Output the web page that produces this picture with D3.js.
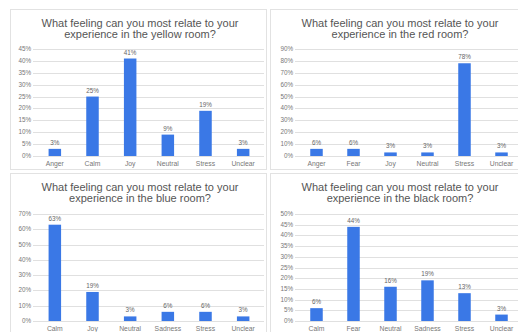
<!DOCTYPE html>
<meta charset="utf-8">
<style>
body { margin: 0; background: #fff; }
svg { display: block; font-family: "Liberation Sans", Arial, sans-serif; }
.grid line { stroke: #e0e0e0; }
.tick-label { fill: #777; font-size: 6.3px; }
.value-label { fill: #666; font-size: 6.3px; }
.cat-label { fill: #777; font-size: 6.8px; }
.title { fill: #555; font-size: 11px; }
</style>
<svg width="518" height="332"></svg>
<script src="https://d3js.org/d3.v7.min.js"></script>
<script>
// data
var yellowCats = ["Anger", "Calm", "Joy", "Neutral", "Stress", "Unclear"]
var yellowVals = [3, 25, 41, 9, 19, 3]
var yellowTicks = [0, 5, 10, 15, 20, 25, 30, 35, 40, 45]

var redCats = ["Anger", "Fear", "Joy", "Neutral", "Stress", "Unclear"]
var redVals = [6, 6, 3, 3, 78, 3]
var redTicks = [0, 10, 20, 30, 40, 50, 60, 70, 80, 90]

var blueCats = ["Calm", "Joy", "Neutral", "Sadness", "Stress", "Unclear"]
var blueVals = [63, 19, 3, 6, 6, 3]
var blueTicks = [0, 10, 20, 30, 40, 50, 60, 70]

var blackCats = ["Calm", "Fear", "Neutral", "Sadness", "Stress", "Unclear"]
var blackVals = [6, 44, 16, 19, 13, 3]
var blackTicks = [0, 5, 10, 15, 20, 25, 30, 35, 40, 45, 50]

var svg = d3.select("svg")
var barColor = "#3a78e6"

function drawPanel(p) {
  var g = svg.append("g")
  // panel frame
  g.append("rect")
    .attr("x", p.box[0] + 0.5).attr("y", p.box[1] + 0.5)
    .attr("width", p.box[2]).attr("height", p.box[3])
    .attr("fill", "#fff").attr("stroke", "#e2e2e2")

  g.append("text").attr("class", "title")
    .attr("x", p.cx).attr("y", p.titleY)
    .attr("text-anchor", "middle").text("What feeling can you most relate to your")
  g.append("text").attr("class", "title")
    .attr("x", p.cx).attr("y", p.titleY + 11)
    .attr("text-anchor", "middle").text("experience in the " + p.room + " room?")

  var y = d3.scaleLinear().domain([0, d3.max(p.ticks)]).range([p.y0, p.y1])
  var x = d3.scaleBand().domain(p.cats).range([p.x0, p.x1])

  //gridlines
  g.append("g").attr("class", "grid").selectAll("line").data(p.ticks)
    .enter().append("line")
    .attr("x1", p.gx).attr("x2", p.gx2)
    .attr("y1", function(d) { return Math.round(y(d)) + 0.5 })
    .attr("y2", function(d) { return Math.round(y(d)) + 0.5 })

  g.selectAll(".tick-label").data(p.ticks).enter().append("text")
    .attr("class", "tick-label")
    .attr("x", p.gx - 2).attr("y", function(d) { return y(d) + 2 })
    .attr("text-anchor", "end")
    .text(function(d) { return d + "%" })

  var bw = 12.5
  var data = p.cats.map(function(c, i) { return {cat: c, v: p.vals[i]} })
  g.selectAll(".bar").data(data).enter().append("rect")
    .attr("class", "bar")
    .attr("x", function(d) { return x(d.cat) + x.bandwidth() / 2 - bw / 2 })
    .attr("width", bw)
    .attr("y", function(d) { return y(d.v) })
    .attr("height", function(d) { return y(0) - y(d.v) })
    .attr("fill", barColor)

  g.selectAll(".value-label").data(data).enter().append("text")
    .attr("class", "value-label")
    .attr("x", function(d) { return x(d.cat) + x.bandwidth() / 2 })
    .attr("y", function(d) { return y(d.v) - 4 })
    .attr("text-anchor", "middle")
    .text(function(d) { return d.v + "%" })

  g.selectAll(".cat-label").data(data).enter().append("text")
    .attr("class", "cat-label")
    .attr("x", function(d) { return x(d.cat) + x.bandwidth() / 2 })
    .attr("y", p.y0 + 10)
    .attr("text-anchor", "middle")
    .text(function(d) { return d.cat })
}

drawPanel({room: "yellow", cats: yellowCats, vals: yellowVals, ticks: yellowTicks,
  box: [10, 9, 256, 160], cx: 140, titleY: 27,
  y0: 156, y1: 49, x0: 36, x1: 262, gx: 33, gx2: 264})
drawPanel({room: "red", cats: redCats, vals: redVals, ticks: redTicks,
  box: [270, 9, 260, 160], cx: 400, titleY: 27,
  y0: 156, y1: 49, x0: 298, x1: 520, gx: 295, gx2: 518})
drawPanel({room: "blue", cats: blueCats, vals: blueVals, ticks: blueTicks,
  box: [10, 173, 256, 170], cx: 140, titleY: 191,
  y0: 321, y1: 214, x0: 36, x1: 262, gx: 33, gx2: 264})
drawPanel({room: "black", cats: blackCats, vals: blackVals, ticks: blackTicks,
  box: [270, 173, 260, 170], cx: 400, titleY: 191,
  y0: 321, y1: 214, x0: 298, x1: 520, gx: 295, gx2: 518})
</script>
